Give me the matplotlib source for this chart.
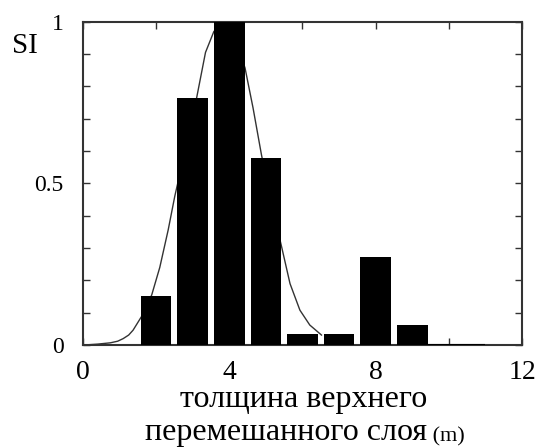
import matplotlib
matplotlib.use('Agg')
import matplotlib.pyplot as plt

plt.rcParams['font.family'] = ['Liberation Serif', 'DejaVu Serif']

# histogram bars (thickness of the upper mixed layer, m)
bar_x = [2, 3, 4, 5, 6, 7, 8, 9]
bar_si = [0.153, 0.764, 1.0, 0.578, 0.033, 0.033, 0.272, 0.062]
tail_end = 11.0

# smooth fit curve
curve_x = [0.0, 0.4, 0.75, 0.95, 1.1, 1.25, 1.37, 1.6, 1.88, 2.1, 2.33, 2.51,
           2.6, 2.85, 3.1, 3.35, 3.58, 4.0, 4.43, 4.65, 4.88, 5.15, 5.43,
           5.66, 5.93, 6.2, 6.52]
curve_si = [0.0, 0.003, 0.007, 0.012, 0.02, 0.031, 0.046, 0.088, 0.155, 0.24,
            0.356, 0.46, 0.505, 0.64, 0.76, 0.905, 0.97, 1.0, 0.857, 0.733,
            0.588, 0.44, 0.304, 0.19, 0.108, 0.062, 0.031]

x_ticks = [0, 2, 4, 6, 8, 10, 12]
x_labels = ['0', '', '4', '', '8', '', '12']
y_ticks = [0, 0.1, 0.2, 0.3, 0.4, 0.5, 0.6, 0.7, 0.8, 0.9, 1.0]
y_labels = ['0', '', '', '', '', '0.5', '', '', '', '', '1']

fig = plt.figure(figsize=(5.35, 4.47), dpi=100)
ax = fig.add_axes([0.155, 0.228, 0.8207, 0.7235])

ax.plot(curve_x, curve_si, color='#333333', lw=1.0, zorder=2)
ax.bar(bar_x, bar_si, width=0.84, color='black', zorder=3)
ax.hlines(0, bar_x[-1] + 0.42, tail_end, color='black', lw=1.5, zorder=3)

ax.set_xlim(0, 12)
ax.set_ylim(0, 1)
ax.set_xticks(x_ticks)
ax.set_xticklabels(x_labels)
ax.set_yticks(y_ticks)
ax.set_yticklabels(y_labels)
ax.tick_params(direction='in', top=True, right=True, length=5, width=1,
               color='#333333')
ax.tick_params(axis='x', pad=11, labelsize=20)
ax.tick_params(axis='y', pad=14, labelsize=17)
for s in ax.spines.values():
    s.set_linewidth(1.5)
    s.set_color('#333333')

fig.text(0.022, 0.897, 'SI', fontsize=21, ha='left', va='center')
fig.text(304 / 535, 1 - 400 / 447, 'толщина верхнего', fontsize=23,
         ha='center', va='center')
t2 = fig.text(145 / 535, 1 - 440 / 447, 'перемешанного слоя', fontsize=23,
              ha='left', va='baseline')
ax.annotate(' (m)', xy=(1, 0.2), xycoords=t2, fontsize=16,
            ha='left', va='baseline', annotation_clip=False)

fig.savefig('out.png', dpi=100)
